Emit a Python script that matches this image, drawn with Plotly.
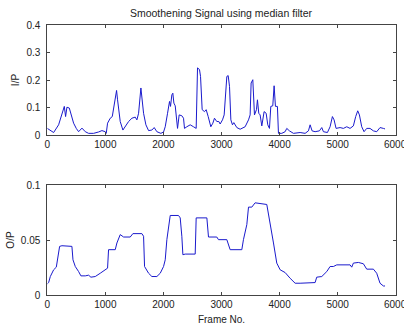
import plotly.graph_objects as go

# Input signal (I/P)
in_frames = [0, 109, 195, 224, 252, 293, 315, 338, 379, 413, 453, 499, 539, 597, 654, 711, 797, 883, 941, 998,
             1015, 1038, 1084, 1119, 1159, 1193, 1210, 1228, 1256, 1302, 1342, 1400, 1457, 1514, 1543, 1572, 1612,
             1641, 1658, 1698, 1744, 1801, 1841, 1887, 1956, 2002, 2031, 2071, 2105, 2122, 2145, 2162, 2180, 2203,
             2220, 2243, 2271, 2317, 2346, 2363, 2403, 2461, 2518, 2564, 2587, 2621, 2639, 2667, 2707, 2736, 2771,
             2816, 2851, 2879, 2919, 2954, 2977, 3017, 3046, 3069, 3092, 3115, 3138, 3161, 3189, 3212, 3264, 3321,
             3407, 3465, 3493, 3510, 3539, 3568, 3602, 3619, 3642, 3665, 3694, 3734, 3769, 3797, 3826, 3849, 3883,
             3906, 3929, 3963, 3981, 4038, 4096, 4124, 4170, 4239, 4354, 4440, 4497, 4526, 4560, 4612, 4686, 4727,
             4755, 4824, 4870, 4910, 4939, 4973, 5042, 5099, 5157, 5214, 5271, 5311, 5346, 5375, 5415, 5455, 5501,
             5558, 5616, 5673, 5730, 5788, 5816]
in_values = [0.024, 0.009, 0.037, 0.055, 0.079, 0.104, 0.067, 0.101, 0.098, 0.073, 0.043, 0.024, 0.012, 0.025,
             0.012, 0.006, 0.006, 0.011, 0.016, 0.012, 0.006, 0.043, 0.061, 0.067, 0.128, 0.162, 0.128, 0.092,
             0.049, 0.018, 0.030, 0.049, 0.061, 0.065, 0.055, 0.079, 0.171, 0.104, 0.079, 0.037, 0.016, 0.018,
             0.027, 0.012, 0.006, 0.011, 0.030, 0.079, 0.122, 0.104, 0.146, 0.152, 0.116, 0.106, 0.079, 0.024,
             0.073, 0.070, 0.061, 0.024, 0.030, 0.037, 0.030, 0.024, 0.244, 0.238, 0.213, 0.092, 0.085, 0.092,
             0.067, 0.030, 0.043, 0.061, 0.049, 0.049, 0.040, 0.055, 0.073, 0.152, 0.213, 0.216, 0.177, 0.055,
             0.037, 0.045, 0.027, 0.021, 0.030, 0.055, 0.073, 0.189, 0.201, 0.073, 0.092, 0.128, 0.079, 0.073,
             0.033, 0.085, 0.079, 0.037, 0.024, 0.104, 0.106, 0.179, 0.104, 0.104, 0.006, 0.006, 0.012, 0.024,
             0.015, 0.006, 0.009, 0.006, 0.015, 0.037, 0.015, 0.012, 0.015, 0.027, 0.012, 0.009, 0.030, 0.067,
             0.055, 0.024, 0.027, 0.024, 0.030, 0.024, 0.033, 0.067, 0.088, 0.073, 0.030, 0.012, 0.024, 0.024,
             0.015, 0.012, 0.027, 0.024, 0.022]

# Output signal (O/P)
out_frames = [0, 23, 52, 80, 109, 155, 178, 212, 252, 396, 424, 442, 482, 539, 579, 654, 711, 751, 826, 912, 998,
              1038, 1055, 1113, 1170, 1199, 1256, 1314, 1428, 1474, 1629, 1658, 1675, 1744, 1801, 1887, 1945, 2002,
              2031, 2059, 2088, 2117, 2260, 2289, 2317, 2335, 2375, 2547, 2564, 2748, 2776, 2919, 2948, 3092, 3149,
              3321, 3350, 3378, 3436, 3465, 3522, 3579, 3665, 3780, 3895, 3952, 4010, 4096, 4182, 4268, 4354, 4526,
              4612, 4640, 4727, 4813, 4870, 4927, 4985, 5214, 5243, 5271, 5357, 5443, 5501, 5616, 5673, 5730, 5788,
              5816]
out_values = [0.0101, 0.0113, 0.0168, 0.0198, 0.0229, 0.0253, 0.032, 0.0442, 0.0448, 0.0448, 0.0442, 0.032,
              0.0259, 0.0213, 0.0174, 0.0174, 0.018, 0.0162, 0.0168, 0.0198, 0.0229, 0.0244, 0.0412, 0.0412,
              0.0412, 0.0473, 0.0549, 0.0527, 0.0527, 0.0558, 0.0558, 0.0534, 0.0259, 0.0198, 0.0168, 0.0168,
              0.0198, 0.0259, 0.032, 0.0503, 0.0625, 0.0723, 0.0723, 0.0701, 0.0534, 0.0366, 0.0372, 0.0372,
              0.0701, 0.0701, 0.0527, 0.0527, 0.0503, 0.0503, 0.0412, 0.0412, 0.0412, 0.0503, 0.064, 0.0799,
              0.0799, 0.0838, 0.0832, 0.0823, 0.0473, 0.029, 0.0229, 0.0204, 0.0152, 0.0107, 0.0107, 0.0107,
              0.0113, 0.0162, 0.0168, 0.0213, 0.0259, 0.0259, 0.0274, 0.0274, 0.0253, 0.029, 0.0296, 0.0284,
              0.0235, 0.0235, 0.0198, 0.0107, 0.0082, 0.0082]

x_ticks = [0, 1000, 2000, 3000, 4000, 5000, 6000]
x_ticktext = ["0", "1000", "2000", "3000", "4000", "5000", "6000"]
top_yticks = [0, 0.1, 0.2, 0.3, 0.4]
top_yticktext = ["0", "0.1", "0.2", "0.3", "0.4"]
bot_yticks = [0, 0.05, 0.1]
bot_yticktext = ["0", "0.05", "0.1"]

FONT = "Liberation Sans Narrow, Arial Narrow, Liberation Sans, Arial, sans-serif"
LINE = "#1a1acc"
AX = "#444444"
TXT = "#222222"

fig = go.Figure()
fig.add_trace(go.Scatter(x=in_frames, y=in_values, mode="lines",
                         line=dict(color=LINE, width=1), xaxis="x", yaxis="y", showlegend=False))
fig.add_trace(go.Scatter(x=out_frames, y=out_values, mode="lines",
                         line=dict(color=LINE, width=1), xaxis="x2", yaxis="y2", showlegend=False))

W, H = 404, 327
xd = [47.3 / W, 395.7 / W]
axis_common = dict(showgrid=False, zeroline=False, showline=True, linecolor=AX, linewidth=1,
                   mirror="ticks", ticks="inside", ticklen=3, tickcolor=AX, automargin=False,
                   tickfont=dict(family=FONT, size=10, color=TXT))

fig.update_layout(
    width=W, height=H,
    margin=dict(l=0, r=0, t=0, b=0),
    paper_bgcolor="white", plot_bgcolor="white",
    font=dict(family=FONT, size=10, color=TXT),
    xaxis=dict(domain=xd, range=[0, 6000], tickvals=x_ticks, ticktext=x_ticktext,
               anchor="y", **axis_common),
    yaxis=dict(domain=[(H - 135) / H, (H - 25) / H], range=[0, 0.4], tickvals=top_yticks,
               ticktext=top_yticktext, anchor="x", ticklabelstandoff=4,
               title=dict(text="I/P", standoff=4, font=dict(family=FONT, size=10)), **axis_common),
    xaxis2=dict(domain=xd, range=[0, 6000], tickvals=x_ticks, ticktext=x_ticktext,
                anchor="y2", title=dict(text="Frame No.", standoff=6, font=dict(family=FONT, size=10)),
                **axis_common),
    yaxis2=dict(domain=[(H - 295) / H, (H - 185) / H], range=[0, 0.1], tickvals=bot_yticks,
                ticktext=bot_yticktext, anchor="x2", ticklabelstandoff=4,
                title=dict(text="O/P", standoff=4, font=dict(family=FONT, size=10)), **axis_common),
    title=dict(text="Smoothening Signal using median filter", x=221 / W, xanchor="center",
               y=1 - 13 / H, yanchor="middle", font=dict(family=FONT, size=10.5, color=TXT)),
)

# last tick label at the right edge (cut off by the page edge, as in the reference)
for xa, ya, ybot in (("x", "y", (H - 135) / H), ("x2", "y2", (H - 295) / H)):
    fig.add_annotation(x=x_ticks[-1], xref=xa, y=ybot, yref="paper", text=x_ticktext[-1],
                       showarrow=False, xanchor="center", yanchor="top", yshift=-2,
                       font=dict(family=FONT, size=10, color=TXT))

fig.write_html("out.html", config={"displayModeBar": False},
               post_script="document.body.style.margin='0';document.body.style.overflow='hidden';")
